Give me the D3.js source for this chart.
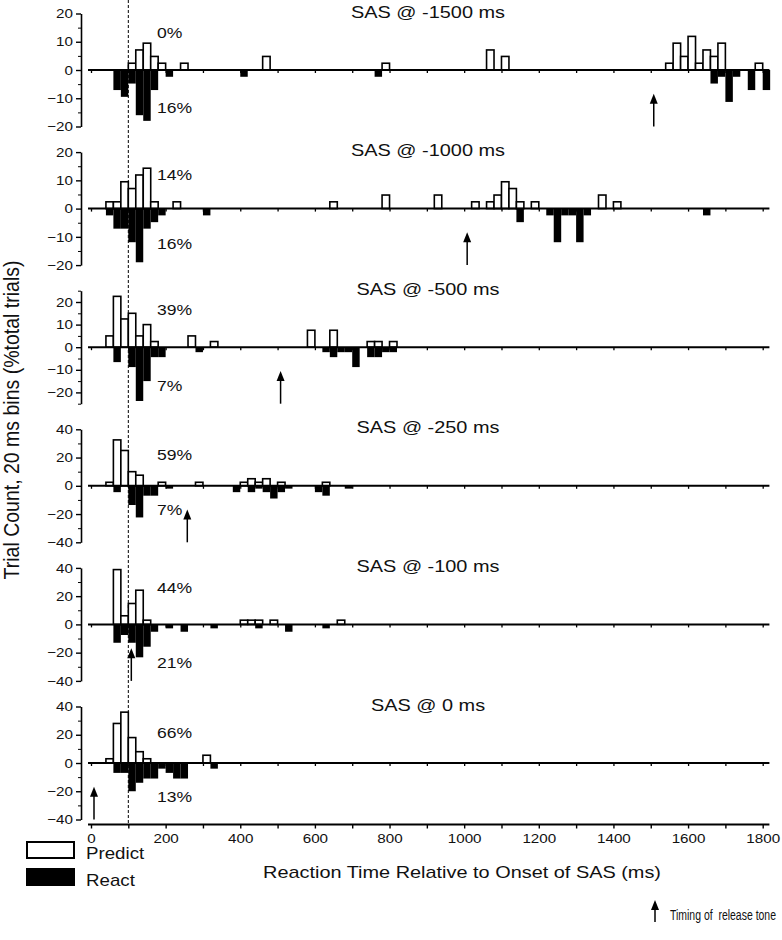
<!DOCTYPE html>
<html>
<head>
<meta charset="utf-8">
<script src="https://cdn.jsdelivr.net/npm/d3@7"></script>
<style>
  body { margin: 0; background: #fff; }
  svg text { font-family: "Liberation Sans", Arial, sans-serif; fill: #111; }
</style>
</head>
<body>
<svg width="782" height="940"></svg>
<script>
// panel info
const panelTitles = ["SAS @ -1500 ms", "SAS @ -1000 ms", "SAS @ -500 ms", "SAS @ -250 ms", "SAS @ -100 ms", "SAS @ 0 ms"];
const toneTimes = [1500, 1000, 500, 250, 100, 0];
const yMax = [20, 20, 25, 40, 40, 40];
const predictPct = ["0%", "14%", "39%", "59%", "44%", "66%"];
const reactPct = ["16%", "16%", "7%", "7%", "21%", "13%"];

// [bin start (ms), % of trials]  20 ms bins
const predict1500 = [[100,2.4],[120,7.1],[140,9.5],[160,4.8],[180,2.4],[240,2.4],[460,4.8],[780,2.4],[1060,7.1],[1100,4.8],
  [1540,2.4],[1560,9.5],[1580,4.8],[1600,11.9],[1620,2.4],[1640,7.1],[1660,4.8],[1680,9.5],[1780,2.4]];
const react1500 = [[60,-7.1],[80,-9.5],[100,-4.8],[120,-16],[140,-18],[160,-7.1],[200,-2.4],[400,-2.4],[760,-2.4],
  [1660,-4.8],[1680,-2.4],[1700,-11.3],[1720,-2.4],[1760,-7.1],[1800,-7.1]];

const predict1000 = [[40,2.4],[60,2.4],[80,9.5],[100,7.1],[120,11.9],[140,14.3],[160,2.4],[220,2.4],[640,2.4],[780,4.8],
  [920,4.8],[1020,2.4],[1060,2.4],[1080,4.8],[1100,9.5],[1120,7.1],[1140,2.4],[1180,2.4],[1360,4.8],[1400,2.4]];
const react1000 = [[40,-2.4],[60,-7.1],[80,-7.1],[100,-11.9],[120,-19],[140,-7.1],[160,-4.8],[180,-2.4],[300,-2.4],
  [1140,-4.8],[1220,-2.4],[1240,-11.9],[1260,-2.4],[1280,-2.4],[1300,-11.9],[1320,-2.4],[1640,-2.4]];

const predict500 = [[40,5],[60,22.5],[80,12.5],[100,15],[120,5],[140,10],[160,2.5],[260,5],[320,2.5],[580,7.5],[640,7.5],
  [740,2.5],[760,2.5],[800,2.5]];
const react500 = [[60,-6.6],[100,-8.8],[120,-23.8],[140,-15],[160,-4.4],[180,-4.4],[280,-2.2],[620,-2.2],[640,-4.4],
  [660,-2.2],[680,-2.2],[700,-8.8],[740,-4.4],[760,-4.4],[780,-2.2],[800,-2.2]];

const predict250 = [[40,2.5],[60,32.5],[80,25],[100,10],[120,7.5],[180,2.5],[280,2.5],[400,2.5],[420,5],[440,2.5],[460,5],
  [500,2.5],[620,2.5]];
const react250 = [[60,-4.5],[100,-13.6],[120,-22.4],[140,-7],[160,-7],[200,-2],[380,-4.5],[420,-4.5],[440,-2],[460,-4.5],
  [480,-9],[500,-4.5],[520,-2],[600,-4.5],[620,-7],[680,-2]];

const predict100 = [[60,38.8],[80,6.1],[100,14.8],[120,24.2],[140,3],[400,3],[420,3],[440,3],[480,3],[660,3]];
const react100 = [[60,-13],[80,-7.5],[100,-13],[120,-23.3],[140,-15.8],[160,-5.2],[200,-2.8],[240,-5.2],[320,-2.8],
  [440,-2.8],[520,-5.2],[620,-2.8]];

const predict0 = [[40,3],[60,28],[80,36],[100,18],[120,8],[140,3],[300,5.5]];
const react0 = [[60,-7],[80,-7],[100,-20],[120,-14],[140,-11],[160,-11],[180,-4],[200,-7],[220,-11],[240,-11],[320,-4]];

const predictSets = [predict1500, predict1000, predict500, predict250, predict100, predict0];
const reactSets = [react1500, react1000, react500, react250, react100, react0];

// where the % labels sit, in each panel's own units
const predictLabelAt = [13, 12, 16.4, 22, 25.5, 21];
const reactLabelAt = [-13.4, -12.4, -17.3, -17, -27, -24];

const BIN = 20;
const SX = 1.17; // the source figure is a bit wider than tall

const svg = d3.select("svg");

// stretch text horizontally like the original
function stretch(sel) {
  sel.each(function () {
    const t = d3.select(this);
    const x = +t.attr("x") || 0, y = +t.attr("y") || 0;
    t.attr("x", null).attr("y", null)
      .attr("transform", `translate(${x},${y}) scale(${SX},1)`);
  });
}

const x = d3.scaleLinear().domain([0, 1800]).range([91, 762.7]);

const panelH = 113, panelStep = 138.6, firstTop = 13.5;

// dashed line at 100 ms
const bottomY = firstTop + 5 * panelStep + panelH + 5;
svg.append("line")
  .attr("x1", x(100)).attr("x2", x(100))
  .attr("y1", 0).attr("y2", bottomY)
  .attr("stroke", "#000").attr("stroke-width", 1)
  .attr("stroke-dasharray", "3,2");

panelTitles.forEach((title, i) => {
  const m = yMax[i];
  const top = firstTop + i * panelStep;
  const y = d3.scaleLinear().domain([-m, m]).range([top + panelH, top]);
  const g = svg.append("g");

  // bars
  g.selectAll(".react")
    .data(reactSets[i])
    .enter()
    .append("rect")
    .attr("class", "react")
    .attr("x", d => x(d[0]))
    .attr("width", d => x(d[0] + BIN) - x(d[0]))
    .attr("y", y(0))
    .attr("height", d => y(d[1]) - y(0))
    .attr("fill", "#000");

  g.selectAll(".predict")
    .data(predictSets[i])
    .enter()
    .append("rect")
    .attr("class", "predict")
    .attr("x", d => x(d[0]))
    .attr("width", d => x(d[0] + BIN) - x(d[0]))
    .attr("y", d => y(d[1]))
    .attr("height", d => y(0) - y(d[1]))
    .attr("fill", "#fff")
    .attr("stroke", "#000")
    .attr("stroke-width", 1.6);

  // y axis, major + minor ticks
  const major = m === 40 ? [-40, -20, 0, 20, 40] : [-20, -10, 0, 10, 20];
  const minor = m === 40 ? [-30, -10, 10, 30] : (m === 25 ? [-25, -15, -5, 5, 15, 25] : [-15, -5, 5, 15]);
  const yAxis = g.append("g")
    .attr("transform", "translate(81,0)")
    .call(d3.axisLeft(y).tickValues(major).tickSize(5).tickPadding(3).tickSizeOuter(0));
  yAxis.select(".domain").attr("stroke-width", 1.6);
  yAxis.selectAll(".tick line").attr("stroke-width", 1.4);
  yAxis.selectAll("text").attr("font-size", 13).attr("font-family", null).call(stretch);
  g.append("g")
    .attr("transform", "translate(81,0)")
    .call(d3.axisLeft(y).tickValues(minor).tickSize(3).tickFormat("").tickSizeOuter(0))
    .call(a => a.select(".domain").remove());

  // x axis on the zero line
  const xAxis = g.append("g")
    .attr("transform", `translate(0,${y(0)})`)
    .call(d3.axisBottom(x).tickValues(d3.range(0, 1801, 100)).tickSize(3).tickFormat("").tickSizeOuter(0));
  xAxis.select(".domain").remove();
  xAxis.selectAll(".tick line").attr("stroke-width", 1.3);
  g.append("line")
    .attr("x1", x(-8)).attr("x2", x(1818))
    .attr("y1", y(0)).attr("y2", y(0))
    .attr("stroke", "#000").attr("stroke-width", 2);

  // title and % labels
  g.append("text")
    .attr("x", 428).attr("y", top + 4)
    .attr("text-anchor", "middle")
    .attr("font-size", 17)
    .text(title)
    .call(stretch);
  g.append("text")
    .attr("x", 157).attr("y", y(predictLabelAt[i]) + 5)
    .attr("font-size", 15)
    .text(predictPct[i])
    .call(stretch);
  g.append("text")
    .attr("x", 157).attr("y", y(reactLabelAt[i]) + 5)
    .attr("font-size", 15)
    .text(reactPct[i])
    .call(stretch);

  // release tone arrow
  const ax = x(toneTimes[i]) + 3;
  const tipY = y(-0.42 * m), baseY = y(-m);
  g.append("line")
    .attr("x1", ax).attr("x2", ax)
    .attr("y1", tipY + 6).attr("y2", baseY)
    .attr("stroke", "#000").attr("stroke-width", 1.5);
  g.append("path")
    .attr("d", `M${ax},${tipY} L${ax - 4},${tipY + 10} L${ax + 4},${tipY + 10} Z`)
    .attr("fill", "#000");

  // bottom labelled axis on the last panel
  if (i === panelTitles.length - 1) {
    const bAxis = g.append("g")
      .attr("transform", `translate(0,${bottomY})`)
      .call(d3.axisBottom(x).tickValues(d3.range(0, 1801, 100)).tickSize(4).tickPadding(5).tickSizeOuter(0)
        .tickFormat(d => d % 200 === 0 ? d : ""));
    bAxis.select(".domain").remove();
    bAxis.selectAll(".tick line").attr("stroke-width", 1.4);
    bAxis.selectAll("text").attr("font-size", 13).attr("font-family", null).call(stretch);
    g.append("line")
      .attr("x1", x(-8)).attr("x2", x(1818))
      .attr("y1", bottomY).attr("y2", bottomY)
      .attr("stroke", "#000").attr("stroke-width", 2);
  }
});

// axis titles
svg.append("text")
  .attr("transform", "translate(19,420) rotate(-90) scale(1,1.17)")
  .attr("text-anchor", "middle")
  .attr("font-size", 19.5)
  .text("Trial Count, 20 ms bins (%total trials)");

svg.append("text")
  .attr("x", 462).attr("y", 878)
  .attr("text-anchor", "middle")
  .attr("font-size", 17)
  .text("Reaction Time Relative to Onset of SAS (ms)")
  .call(stretch);

// legend
const legendItems = ["Predict", "React"];
const legendFill = ["#fff", "#000"];
const lg = svg.append("g");
lg.selectAll("rect")
  .data(legendItems)
  .enter()
  .append("rect")
  .attr("x", 27).attr("y", (d, k) => 842 + k * 27)
  .attr("width", 47).attr("height", 16)
  .attr("fill", (d, k) => legendFill[k])
  .attr("stroke", "#000").attr("stroke-width", 2);
lg.selectAll("text")
  .data(legendItems)
  .enter()
  .append("text")
  .attr("x", 86).attr("y", (d, k) => 859 + k * 27)
  .attr("font-size", 16)
  .text(d => d)
  .call(stretch);

svg.append("line")
  .attr("x1", 655).attr("x2", 655).attr("y1", 908).attr("y2", 922)
  .attr("stroke", "#000").attr("stroke-width", 1.5);
svg.append("path")
  .attr("d", "M655,900 L651,910 L659,910 Z")
  .attr("fill", "#000");
svg.append("text")
  .attr("x", 670).attr("y", 920)
  .attr("font-size", 15.5)
  .attr("textLength", 106)
  .attr("lengthAdjust", "spacingAndGlyphs")
  .style("white-space", "pre")
  .text("Timing of  release tone");
</script>
</body>
</html>
